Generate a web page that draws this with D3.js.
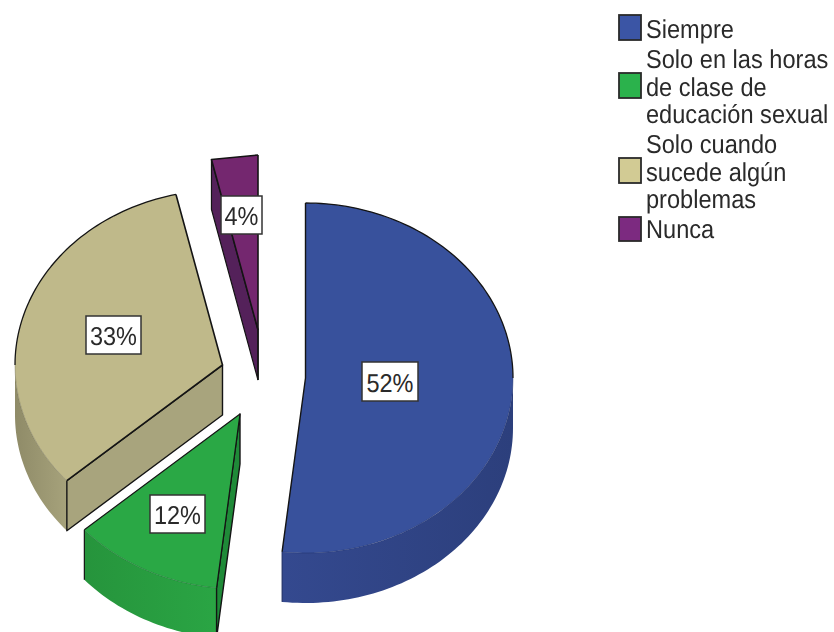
<!DOCTYPE html>
<html><head><meta charset="utf-8">
<script src="https://cdn.jsdelivr.net/npm/d3@7"></script>
<style>html,body{margin:0;background:#fff}svg{display:block;filter:blur(0.55px)}text{font-family:"Liberation Sans",Arial,sans-serif;fill:#2a2a2a;text-rendering:geometricPrecision}</style>
</head><body><script>
const categories = ["Siempre","Solo en las horas de clase de educación sexual","Solo cuando sucede algún problemas","Nunca"];
const legendLines = [["Siempre"],["Solo en las horas","de clase de","educación sexual"],["Solo cuando","sucede algún","problemas"],["Nunca"]];
const values = [51.8,11.7,32.9,3.6];
const topColors = ["#38519c","#2aa845","#bfb98a","#74276f"];
const wallGradients = [["#34498f","#2c3f7c"],["#26943c","#2aa544"],["#8f8b68","#a6a27b"],["#531f58","#531f58"]];
const cutColors = ["#2f4488","#1f8a38","#a8a47d","#54215a"];
const swatchColors = ["#3b55a5","#2bb24c","#d2cb94","#7c2a80"];
const centers = [[305.5,378],[240,414],[222.5,365],[258,330]];
const labelBoxes = [[362,362,56,39],[150,495,55,38],[86,316,55,38],[221,196,41,38]];
const legendSwatchY = [15,73,158,217];
const legendBaselines = [[38],[68,96,123],[153,181,208],[238]];

const W=834,H=632,rx=207.5,ry=175,depth=50;
const svg=d3.select("body").append("svg").attr("width",W).attr("height",H);
const defs=svg.append("defs");
wallGradients.forEach((c,i)=>{
  const lg=defs.append("linearGradient").attr("id","wall"+i);
  // Blue runs dark toward the right; the others run light toward the right.
  lg.append("stop").attr("offset","0%").attr("stop-color",c[0]);
  lg.append("stop").attr("offset","100%").attr("stop-color",c[1]);
});
const arcs=d3.pie().sort(null).value(d=>d)(values);
const line=d3.line();
const pt=(c,a,dz=0)=>[c[0]+rx*Math.sin(a),c[1]-ry*Math.cos(a)+dz];
const sample=(a0,a1)=>{const n=Math.max(2,Math.ceil(Math.abs(a1-a0)*40));return d3.range(n+1).map(i=>a0+(a1-a0)*i/n);};
const rim=(c,a0,a1,dz=0)=>sample(a0,a1).map(a=>pt(c,a,dz));
const HALF=Math.PI/2,ONE5=1.5*Math.PI;
const ink="#141414";

function wall(g,c,a0,a1,i){
  const pts=rim(c,a0,a1).concat(rim(c,a0,a1,depth).reverse());
  g.append("path").attr("d",line(pts)+"Z").attr("fill",`url(#wall${i})`);
}
function cut(g,c,a,col){
  const r=pt(c,a);
  g.append("path").attr("d",line([c,r,[r[0],r[1]+depth],[c[0],c[1]+depth]])+"Z").attr("fill",col)
   .attr("stroke",ink).attr("stroke-width",1.4).attr("stroke-linejoin","round");
}
function topFace(g,c,a0,a1,col){
  g.append("path").attr("d",line([c].concat(rim(c,a0,a1)))+"Z").attr("fill",col);
}
function stroke(g,pts,w=1.6,col=ink,op=1){
  g.append("path").attr("d",line(pts)).attr("fill","none").attr("stroke",col).attr("stroke-width",w).attr("stroke-opacity",op).attr("stroke-linejoin","round");
}

const [b,gr,t,p]=arcs;
const cb=centers[0],cg=centers[1],ct=centers[2],cp=centers[3];

// Nunca
{const g=svg.append("g");
 const r=pt(cp,p.startAngle),e=pt(cp,p.endAngle);
 g.append("path").attr("d",line([r,[r[0],r[1]+depth],[cp[0],cp[1]+depth],cp])+"Z").attr("fill",cutColors[3]).attr("stroke",ink).attr("stroke-width",1.2);
 g.append("path").attr("d",line([cp,r,e])+"Z").attr("fill",topColors[3]);
 stroke(g,[e,r,cp]);stroke(g,[e,cp,[cp[0],cp[1]+depth]]);}
// Solo cuando
{const g=svg.append("g");
 wall(g,ct,t.startAngle,ONE5,2);
 cut(g,ct,t.startAngle,cutColors[2]);
 topFace(g,ct,t.startAngle,t.endAngle,topColors[2]);
 stroke(g,[pt(ct,t.startAngle),ct,pt(ct,t.endAngle)]);
 stroke(g,rim(ct,ONE5,t.endAngle),1.3);
 stroke(g,rim(ct,t.startAngle,ONE5),.7,"#5c5a40",.5);}
// Siempre
{const g=svg.append("g");
 wall(g,cb,HALF,b.endAngle,0);
 const e=pt(cb,b.endAngle);
 stroke(g,[e,[e[0],e[1]+depth]],1,"#1c2c60");
 topFace(g,cb,0,b.endAngle,topColors[0]);
 stroke(g,[pt(cb,0),cb,e],1.4);
 stroke(g,rim(cb,0,HALF),1.3);
 stroke(g,rim(cb,HALF,b.endAngle),.7,"#1c2c60",.6);}
// Solo en las horas
{const g=svg.append("g");
 wall(g,cg,gr.startAngle,gr.endAngle,1);
 cut(g,cg,gr.startAngle,cutColors[1]);
 topFace(g,cg,gr.startAngle,gr.endAngle,topColors[1]);
 const s=pt(cg,gr.startAngle),e=pt(cg,gr.endAngle);
 stroke(g,[s,cg,e],1.2);
 stroke(g,[e,[e[0],e[1]+depth]],1.2);
 stroke(g,rim(cg,gr.startAngle,gr.endAngle),.7,"#14592a",.6);}

// labels
const yStretch=1.1;
labelBoxes.forEach((bx,i)=>{
  svg.append("rect").attr("x",bx[0]).attr("y",bx[1]).attr("width",bx[2]).attr("height",bx[3])
   .attr("fill","#fff").attr("stroke","#333").attr("stroke-width",1.5);
  svg.append("text").attr("text-anchor","middle").attr("font-size",23.5)
   .attr("transform",`translate(${bx[0]+bx[2]/2},${bx[1]+bx[3]-9}) scale(1,${yStretch})`)
   .text(d3.format(".0f")(values[i])+"%");
});

// legend
categories.forEach((cat,i)=>{
  const g=svg.append("g").attr("class","legend-item");
  g.append("rect").attr("x",619).attr("y",legendSwatchY[i]).attr("width",22).attr("height",i===3?24:25)
   .attr("fill",swatchColors[i]).attr("stroke","#2a2a2a").attr("stroke-width",1.8);
  legendLines[i].forEach((l,j)=>{
    g.append("text").attr("font-size",23.6)
     .attr("transform",`translate(646,${legendBaselines[i][j]}) scale(1,${yStretch})`).text(l);
  });
});
</script></body></html>
